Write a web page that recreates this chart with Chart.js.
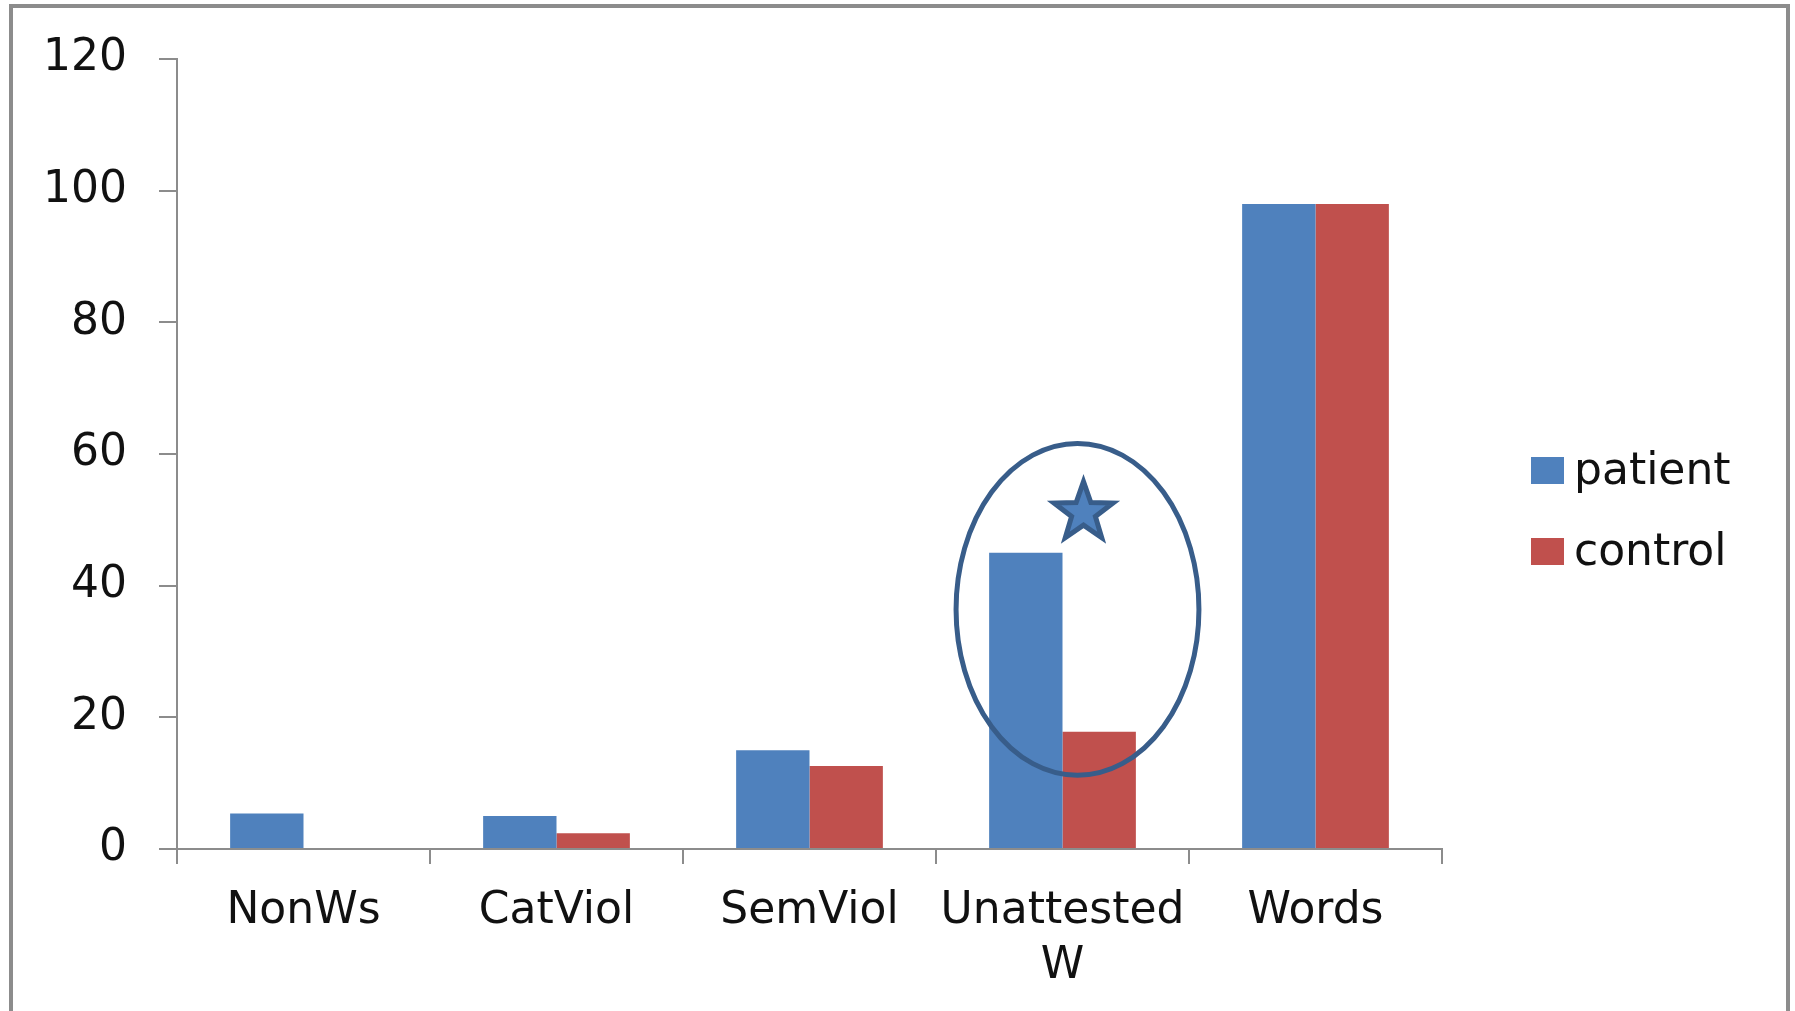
<!DOCTYPE html>
<html>
<head>
<meta charset="utf-8">
<script src="https://cdn.jsdelivr.net/npm/chart.js@4.4.0/dist/chart.umd.min.js"></script>
<style>
  html, body { margin: 0; padding: 0; background: #fff; overflow: hidden; }
  #frame {
    position: absolute; left: 9px; top: 4px; width: 1781px; height: 1100px;
    box-sizing: border-box; border: 4px solid #8c8c8c; border-bottom: none;
  }
  #wrap { position: absolute; left: 0; top: 0; width: 1795px; height: 1011px; }
</style>
</head>
<body>
<div id="frame"></div>
<div id="wrap"><canvas id="chart"></canvas></div>
<script>
// data
const categories = ['NonWs', 'CatViol', 'SemViol', ['Unattested', 'W'], 'Words'];
const patientValues = [5.4, 5.0, 15.0, 45.0, 98.0];
const controlValues = [0, 2.4, 12.6, 17.8, 98.0];
const seriesNames = ['patient', 'control'];
const yTicks = [0, 20, 40, 60, 80, 100, 120];

const BLUE = '#4F81BD';
const RED = '#C0504D';
const AXIS = '#8c8c8c';
const FONT = { family: '"DejaVu Sans", sans-serif', size: 44, lineHeight: 1.23 };

// legend drawn on the right, next to the plot
const sideLegend = {
  id: 'sideLegend',
  afterDraw(chart) {
    const ctx = chart.ctx;
    const area = chart.chartArea;
    const x0 = area.right + 89;
    const rowsY = [472, 553];
    ctx.save();
    ctx.font = `${FONT.size}px ${FONT.family}`;
    ctx.textBaseline = 'middle';
    ctx.textAlign = 'left';
    chart.data.datasets.forEach((ds, i) => {
      const cy = rowsY[i];
      ctx.fillStyle = ds.backgroundColor;
      ctx.fillRect(x0, cy - 15, 33, 27);
      ctx.fillStyle = '#111';
      ctx.fillText(ds.label, x0 + 43, cy + 1);
    });
    ctx.restore();
  }
};

// circle + star highlighting the Unattested W group
const highlight = {
  id: 'highlight',
  afterDatasetsDraw(chart) {
    const ctx = chart.ctx;
    const xs = chart.scales.x;
    const ys = chart.scales.y;
    const cx = xs.getPixelForValue(3) + 15;
    const cy = ys.getPixelForValue(36.4);
    const ry = ys.getPixelForValue(36.4 - 25.2) - cy;
    const rx = xs.width / categories.length * 0.48;

    ctx.save();
    ctx.beginPath();
    ctx.ellipse(cx, cy, rx, ry, 0, 0, Math.PI * 2);
    ctx.strokeStyle = '#385D8A';
    ctx.lineWidth = 5;
    ctx.stroke();

    // five-point star
    const sx = cx + 6;
    const sy = ys.getPixelForValue(51.1);
    const outer = 31, inner = 12.5;
    ctx.beginPath();
    for (let k = 0; k < 10; k++) {
      const r = k % 2 === 0 ? outer : inner;
      const a = -Math.PI / 2 + k * Math.PI / 5;
      const px = sx + r * Math.cos(a);
      const py = sy + r * Math.sin(a);
      if (k === 0) ctx.moveTo(px, py); else ctx.lineTo(px, py);
    }
    ctx.closePath();
    ctx.fillStyle = BLUE;
    ctx.fill();
    ctx.strokeStyle = '#385D8A';
    ctx.lineWidth = 5;
    ctx.lineJoin = 'miter';
    ctx.stroke();
    ctx.restore();
  }
};

Chart.defaults.font.family = FONT.family;
Chart.defaults.color = '#111';

new Chart(document.getElementById('chart'), {
  type: 'bar',
  data: {
    labels: categories,
    datasets: [
      { label: seriesNames[0], data: patientValues, backgroundColor: BLUE },
      { label: seriesNames[1], data: controlValues, backgroundColor: RED },
    ],
  },
  options: {
    responsive: true,
    maintainAspectRatio: false,
    animation: false,
    devicePixelRatio: 1,
    categoryPercentage: 0.58,
    barPercentage: 1,
    layout: { padding: { top: 55, right: 353, bottom: 0, left: 0 } },
    plugins: {
      legend: { display: false },
      tooltip: { enabled: false },
    },
    scales: {
      x: {
        grid: {
          offset: true,
          drawOnChartArea: false,
          drawTicks: true,
          tickLength: 15,
          color: AXIS,
          lineWidth: 2,
        },
        border: { color: AXIS, width: 2 },
        ticks: { font: FONT, color: '#111', padding: 21, maxRotation: 0, autoSkip: false },
        afterFit: (s) => { s.height = 1011 - 849; },
      },
      y: {
        min: 0,
        max: 120,
        afterBuildTicks: (s) => { s.ticks = yTicks.map((v) => ({ value: v })); },
        grid: {
          drawOnChartArea: false,
          drawTicks: true,
          tickLength: 18,
          color: AXIS,
          lineWidth: 2,
        },
        border: { color: AXIS, width: 2 },
        ticks: { font: FONT, color: '#111', padding: 32 },
        afterFit: (s) => { s.width = 177; },
      },
    },
  },
  plugins: [highlight, sideLegend],
});
</script>
</body>
</html>
